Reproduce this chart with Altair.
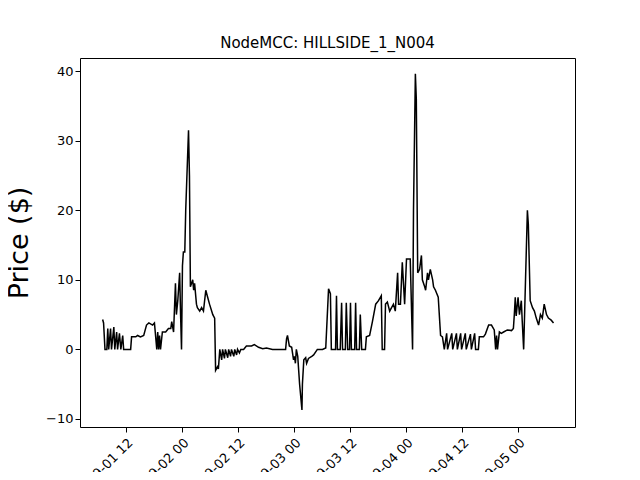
import pandas as pd
import altair as alt

# hours after 09-01 07:00 and price
hours = [0, 0.2, 0.5, 0.9, 1.1, 1.3, 1.7, 1.9, 2.4, 2.6, 3, 3.2, 3.6, 3.9, 4.3, 4.5, 6, 6.2, 7.1, 7.5, 8.1, 8.8,
         9.4, 9.9, 10.7, 11.1, 11.6, 11.8, 12, 12.2, 12.4, 12.8, 13.5, 14.1, 14.6, 14.8, 15.2, 15.6, 15.8, 16.1,
         16.5, 16.7, 16.9, 17.1, 17.3, 17.6, 17.8, 18.4, 18.6, 18.8, 19.3, 19.5, 19.7, 20.1, 20.3, 20.8, 21.2,
         21.6, 22.1, 22.5, 22.9, 23.6, 24, 24.2, 24.6, 24.8, 25.1, 25.5, 25.7, 26.1, 26.3, 26.8, 27, 27.4, 27.6,
         28.1, 28.3, 28.7, 28.9, 29.3, 29.6, 30.2, 30.8, 31.9, 32.5, 33.4, 34.3, 35.1, 36.4, 39.2, 39.4, 39.6,
         40, 40.5, 40.9, 41.1, 41.3, 41.5, 41.8, 42.2, 42.7, 42.8, 43.1, 43.5, 43.7, 44.1, 44.8, 45.2, 46, 47.1,
         47.8, 48.4, 48.8, 49, 49.9, 50.1, 50.3, 50.9, 51.2, 51.4, 52, 52.2, 52.5, 52.9, 53.1, 53.3, 54, 54.2,
         54.4, 55, 55.2, 55.5, 56.3, 56.5, 57.2, 57.8, 58.5, 59.1, 59.7, 59.9, 60.4, 60.6, 61, 61.5, 61.9, 62.3,
         62.7, 63.2, 63.4, 63.8, 64.2, 64.7, 65.1, 65.5, 65.9, 66.4, 66.6, 67, 67.2, 67.5, 67.9, 68.3, 68.5, 69,
         69.2, 69.6, 69.8, 70.2, 70.7, 70.9, 71.3, 71.9, 72.4, 72.8, 73.2, 73.7, 73.9, 74.8, 75, 75.8, 76, 76.7,
         76.9, 77.7, 77.9, 78.8, 79, 79.7, 79.9, 80.5, 80.7, 81.6, 82, 82.7, 83.3, 83.9, 84.2, 84.4, 84.6, 85,
         85.4, 85.9, 86.7, 87.6, 88, 88.2, 88.4, 88.6, 89, 89.3, 89.7, 89.9, 90.2, 90.6, 91, 91.2, 91.6, 92.1,
         92.5, 92.9, 93.4, 93.8, 94.2, 94.6, 95.1, 95.5, 96.1, 96.6]
price = [4.3, 3.8, 0, 0, 3, 0, 3, 0, 3.2, 0, 2.5, 0, 2.3, 0, 2, 0, 0, 1.8, 1.8, 2, 1.8, 2,
         3.5, 3.8, 3.5, 3.8, 0, 2.5, 0, 2, 0, 2.5, 2.5, 3, 3, 4, 2.5, 9.5, 5, 7,
         11, 5, 0, 12, 14, 14, 20, 31.5, 25, 9, 10, 8.5, 9.5, 6.5, 6, 5.5, 6,
         5.5, 8.5, 7.5, 6.5, 5, 4.5, -3, -2.5, -2.8, 0, -1.5, 0, -1.3, 0, -1.2, 0, -1, 0,
         -1, 0, -0.8, 0, -0.5, 0, 0, 0.5, 0.5, 0.7, 0.3, 0.1, 0.2, 0, 0, 1.5, 2,
         0.5, 0.3, -1.5, -1, -2, 0, -1, -5, -8.7, -5, -1.5, -1.2, -2, -1.3, -1, -0.8, 0, 0,
         0.2, 8.7, 8, 0, 0, 7.7, 0, 0, 6.7, 0, 0, 6.7, 0, 0, 6.7, 0, 0, 6.7,
         0, 0, 5, 0, 0, 1.8, 2, 4, 6.5, 7, 7.7, 0, 0, 6.5, 6.8, 5.5, 6, 6.5,
         5.5, 11, 6.5, 6.5, 12.5, 6.5, 13, 13, 13, 0, 20, 39.6, 36, 11, 11.5, 13.5, 10, 9,
         8.5, 11, 10, 11.5, 10, 9, 8.5, 7.5, 2, 1.8, 0, 2.3, 0, 2.3, 0, 2.3, 0, 2.3,
         0, 2.3, 0, 2.2, 0, 2.3, 0, 0, 1.8, 1.8, 2.2, 3.5, 3.5, 2.8, 0, 2, 0, 2.5,
         2.3, 2.5, 2.8, 2.7, 3, 5, 7.5, 4.8, 7.5, 5, 7, 4, 0, 10, 20, 18, 7, 6,
         5.5, 4.5, 3.5, 5, 4.5, 6.5, 5, 4.5, 4.2, 3.8]

start = pd.Timestamp('2019-09-01 07:00')
df = pd.DataFrame({'time': [start + pd.Timedelta(hours=h) for h in hours], 'price': price})

tick_vals = [alt.DateTime(year=2019, month=9, date=d, hours=hh)
             for d, hh in [(1, 12), (2, 0), (2, 12), (3, 0), (3, 12), (4, 0), (4, 12), (5, 0)]]
x_dom = [alt.DateTime(year=2019, month=9, date=1, hours=2, minutes=9),
         alt.DateTime(year=2019, month=9, date=5, hours=12, minutes=12)]

chart = alt.Chart(df).mark_line(color='black', strokeWidth=1.5).encode(
    x=alt.X('time:T', title=None, scale=alt.Scale(domain=x_dom, nice=False),
            axis=alt.Axis(values=tick_vals, format='%m-%d %H', labelAngle=-45, grid=False,
                          labelFontSize=13, tickSize=5, domain=False, labelPadding=4)),
    y=alt.Y('price:Q', title='Price ($)', scale=alt.Scale(domain=[-11.15, 41.87], nice=False, zero=False),
            axis=alt.Axis(values=[-10, 0, 10, 20, 30, 40], grid=False, labelFontSize=13, tickSize=5,
                          domain=False, titleFontSize=27, titleFontWeight='normal', titlePadding=12))
).properties(
    width=495, height=369,
    title=alt.Title('NodeMCC: HILLSIDE_1_N004', fontSize=15, fontWeight='normal', offset=7),
    autosize=alt.AutoSizeParams(type='none'),
    padding={'left': 72, 'top': 50, 'right': 57, 'bottom': 45}
).configure(font='DejaVu Sans').configure_view(stroke='black', strokeWidth=1).configure_axis(
    labelColor='black', tickColor='black', titleColor='black', labelFont='DejaVu Sans', titleFont='DejaVu Sans'
).configure_title(color='black', font='DejaVu Sans')

chart.save('out.html', embed_options={'renderer': 'svg', 'actions': False})
